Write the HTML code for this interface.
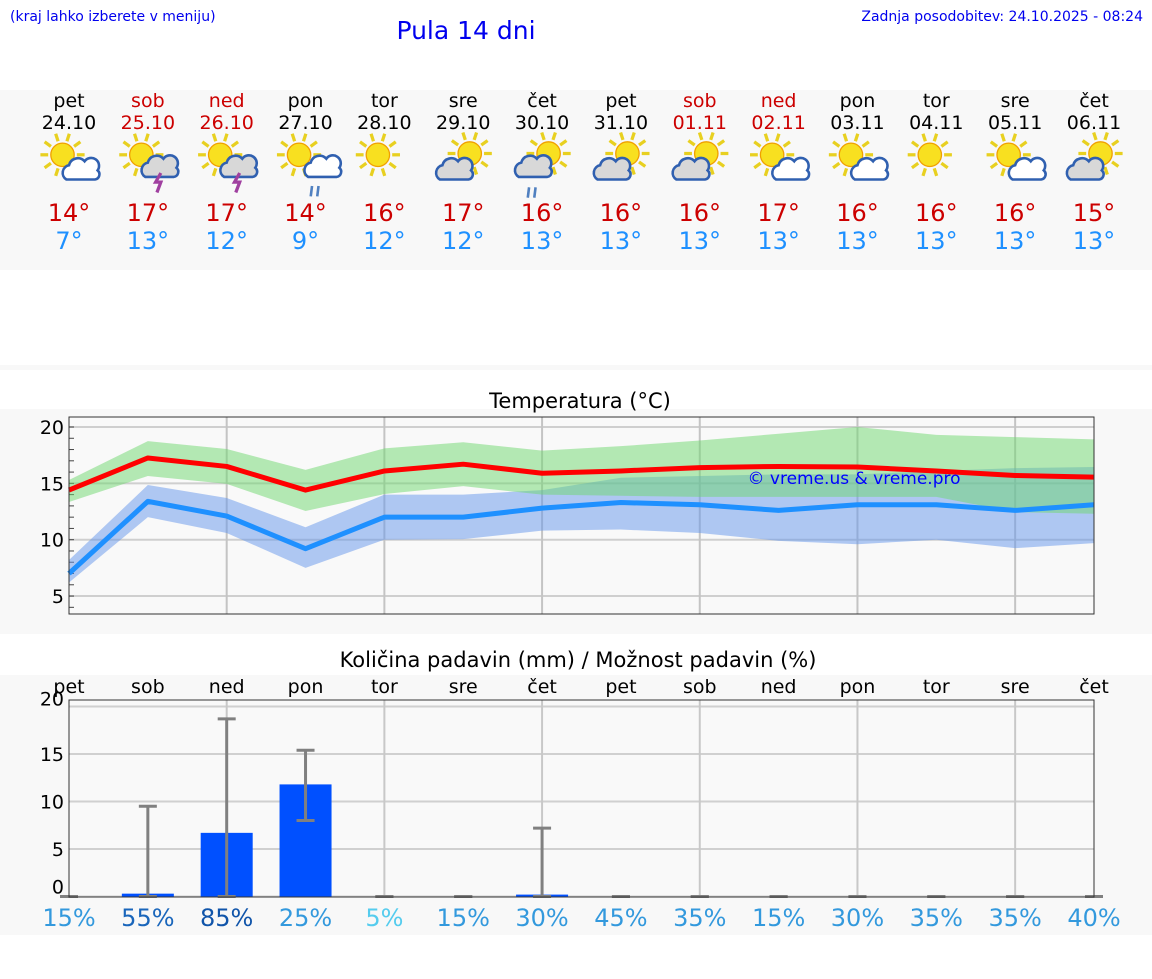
<!DOCTYPE html>
<html><head><meta charset="utf-8"><style>
body{margin:0;background:#fff;width:1152px;height:975px;overflow:hidden;font-family:"DejaVu Sans","Liberation Sans",sans-serif}
svg text{font-family:"DejaVu Sans","Liberation Sans",sans-serif}
</style></head><body>
<svg id="s" width="1152" height="975" xmlns="http://www.w3.org/2000/svg">
<rect x="0" y="90" width="1152" height="180" fill="#f8f8f8"/>
<rect x="0" y="365" width="1152" height="5" fill="#f8f8f8"/>
<rect x="0" y="409" width="1152" height="225" fill="#f8f8f8"/>
<rect x="0" y="675" width="1152" height="260" fill="#f8f8f8"/>
<text x="10" y="21" font-size="14" fill="#0000ee">(kraj lahko izberete v meniju)</text>
<text x="466" y="39" font-size="25" fill="#0000ee" text-anchor="middle">Pula 14 dni</text>
<text x="1143" y="21" font-size="14" fill="#0000ee" text-anchor="end">Zadnja posodobitev: 24.10.2025 - 08:24</text>
<text x="580" y="408" font-size="21" text-anchor="middle">Temperatura (°C)</text>
<text x="578" y="667" font-size="21" text-anchor="middle">Količina padavin (mm) / Možnost padavin (%)</text>
<g id="topg"></g><g id="temp"></g><g id="prec"></g>
</svg>
<script>
const days=["pet","sob","ned","pon","tor","sre","čet","pet","sob","ned","pon","tor","sre","čet"];
const dates=["24.10","25.10","26.10","27.10","28.10","29.10","30.10","31.10","01.11","02.11","03.11","04.11","05.11","06.11"];
const weekend=[0,1,1,0,0,0,0,0,1,1,0,0,0,0];
const icons=["sc","st","st","sr","s","cs","cr","cs","cs","sc","sc","s","sc","cs"];
const hiLabels=[14,17,17,14,16,17,16,16,16,17,16,16,16,15];
const loLabels=[7,13,12,9,12,12,13,13,13,13,13,13,13,13];
const tMax=[14.4,17.25,16.5,14.4,16.1,16.7,15.9,16.1,16.4,16.5,16.45,16.1,15.7,15.55];
const tMaxHi=[15.3,18.75,18.05,16.2,18.1,18.65,17.9,18.3,18.8,19.4,20.0,19.3,19.1,18.9];
const tMaxLo=[13.35,15.65,14.95,12.55,14.05,14.75,14.0,13.9,13.8,13.8,13.8,13.8,12.45,12.3];
const tMin=[7.0,13.4,12.1,9.2,12.0,12.0,12.8,13.3,13.1,12.6,13.1,13.1,12.6,13.1];
const tMinHi=[8.2,14.85,13.7,11.1,14.0,14.0,14.4,15.5,15.65,15.8,15.8,16.1,16.35,16.45];
const tMinLo=[6.2,12.0,10.6,7.5,10.0,10.05,10.8,10.9,10.6,9.9,9.6,10.0,9.25,9.7];
const rain=[0,0.3,6.7,11.8,0,0,0.2,0,0,0,0,0,0,0];
const rainHi=[0,9.5,18.7,15.4,0,0,7.2,0,0,0,0,0,0,0];
const rainLo=[0,0,0,8,0,0,0,0,0,0,0,0,0,0];
const prob=[15,55,85,25,5,15,30,45,35,15,30,35,35,40];
const tTicks=[5,10,15,20];
const pTicks=[0,5,10,15,20];
const NS="http://www.w3.org/2000/svg";
function mk(p,t,a){const e=document.createElementNS(NS,t);for(const k in a)e.setAttribute(k,a[k]);p.appendChild(e);return e;}
const X=i=>69+i*(1025/13);
const TY=v=>427+(20-v)*11.27;
const PY=v=>896.5-v*9.5;
const topG=document.getElementById('topg');
function sun(g,cx,cy,r){for(let k=0;k<10;k++){const a=k*Math.PI/5;mk(g,'line',{x1:cx+Math.cos(a)*(r+2),y1:cy+Math.sin(a)*(r+2),x2:cx+Math.cos(a)*(r+8),y2:cy+Math.sin(a)*(r+8),stroke:'#e8d020','stroke-width':2.5});}
mk(g,'circle',{cx:cx,cy:cy,r:r,fill:'#f8e020',stroke:'#f0a000','stroke-width':1});}
function cloud(g,cx,cy,fill){mk(g,'path',{d:`M${cx-12},${cy+7} a6,6 0 0 1 2,-11 a7,7 0 0 1 12,-3 a6,6 0 0 1 10,7 a4,4 0 0 1 -2,7 z`,fill:fill,stroke:'#3060b0','stroke-width':2});}
for(let i=0;i<14;i++){
 const x=X(i);
 const col=weekend[i]?'#cc0000':'#000';
 let t=mk(topG,'text',{x:x,y:107,'font-size':19,'text-anchor':'middle',fill:col});t.textContent=days[i];
 
 
 t=mk(topG,'text',{x:x,y:129,'font-size':19,'text-anchor':'middle',fill:col});t.textContent=dates[i];
 
 
 const g=mk(topG,'g',{transform:`translate(${x},160) scale(1.3) translate(${-x},-160)`});
 
 
 const ic=icons[i];
 if(ic[0]==='s'){sun(g,x-5,156,9);}else{sun(g,x+5,155,9);}
 if(ic==='sc')cloud(g,x+10,168,'#fff');
 if(ic==='st'){cloud(g,x+10,166,'#d8d8d8');mk(g,'path',{d:`M${x+10},170 l-4,7 h4 l-3,8`,stroke:'#a040a0','stroke-width':2.5,fill:'none'});}
 if(ic==='sr'){cloud(g,x+14,166,'#fff');mk(g,'path',{d:`M${x+5},180 l-1,8 M${x+10},180 l-1,8`,stroke:'#5080c0','stroke-width':2});}
 if(ic==='cs')cloud(g,x-6,168,'#d8d8d8');
 if(ic==='cr'){cloud(g,x-6,166,'#d8d8d8');mk(g,'path',{d:`M${x-10},181 l-1,8 M${x-5},181 l-1,8`,stroke:'#5080c0','stroke-width':2});}
 t=mk(topG,'text',{x:x,y:221,'font-size':24,'text-anchor':'middle',fill:'#cc0000'});t.textContent=hiLabels[i]+'°';
 
 
 t=mk(topG,'text',{x:x,y:249,'font-size':24,'text-anchor':'middle',fill:'#1e90ff'});t.textContent=loLabels[i]+'°';
 
 
}
const tg=document.getElementById('temp');
mk(tg,'rect',{x:69,y:417,width:1025,height:197,fill:'#f9f9f9'});
for(const v of tTicks){mk(tg,'line',{x1:69,x2:1094,y1:TY(v),y2:TY(v),stroke:'#cfcfcf','stroke-width':2});
 const t=mk(tg,'text',{x:64,y:TY(v)+7,'font-size':19,'text-anchor':'end'});t.textContent=v;
 
 }
for(let v=4;v<=20;v++)mk(tg,'line',{x1:69,x2:74,y1:TY(v),y2:TY(v),stroke:'#444'});
for(let i=2;i<14;i+=2)mk(tg,'line',{x1:X(i),x2:X(i),y1:417,y2:614,stroke:'#c4c4c4','stroke-width':2});
function band(hi,lo,fill,name){let d='M'+hi.map((v,i)=>X(i)+','+TY(v)).join(' L')+' L'+lo.map((v,i)=>X(i)+','+TY(v)).reverse().join(' L')+'Z';
 const p=mk(tg,'path',{d:d,fill:fill});
 
 }
function line(vals,col,name){const p=mk(tg,'polyline',{points:vals.map((v,i)=>X(i)+','+TY(v)).join(' '),fill:'none',stroke:col,'stroke-width':5,'stroke-linejoin':'round'});
 
 }
band(tMinHi,tMinLo,'rgba(100,150,235,0.5)','min-temp-band');
band(tMaxHi,tMaxLo,'rgba(110,215,110,0.5)','max-temp-band');
line(tMax,'#ff0000','max-temp-line');
line(tMin,'#1e90ff','min-temp-line');
mk(tg,'rect',{x:69,y:417,width:1025,height:197,fill:'none',stroke:'#333'});
const wm=mk(tg,'text',{x:854,y:484,'font-size':17,fill:'#0000ff','text-anchor':'middle'});wm.textContent='© vreme.us & vreme.pro';


const pg=document.getElementById('prec');
mk(pg,'rect',{x:69,y:700,width:1025,height:197,fill:'#f9f9f9'});
for(const v of pTicks){mk(pg,'line',{x1:69,x2:1094,y1:PY(v),y2:PY(v),stroke:'#d0d0d0','stroke-width':2});
 const t=mk(pg,'text',{x:64,y:PY(v)+(v===0?-3:(v===20?-1:7)),'font-size':19,'text-anchor':'end'});t.textContent=v;
 
 }
for(let i=2;i<14;i+=2)mk(pg,'line',{x1:X(i),x2:X(i),y1:700,y2:897,stroke:'#c8c8c8','stroke-width':2});
for(let i=0;i<14;i++){
 const x=X(i);
 let t=mk(pg,'text',{x:x,y:693,'font-size':19,'text-anchor':'middle'});t.textContent=days[i];
 
 
 if(rain[i]>0){const b=mk(pg,'rect',{x:x-26,y:PY(rain[i]),width:52,height:PY(0)-PY(rain[i])+0.5,fill:'#0050ff'});
  
  }
 const e=mk(pg,'g',{stroke:'#808080','stroke-width':3});
 
 
 mk(e,'line',{x1:x,x2:x,y1:PY(rainHi[i]),y2:PY(rainLo[i])});
 mk(e,'line',{x1:x-9,x2:x+9,y1:PY(rainHi[i]),y2:PY(rainHi[i])});
 mk(e,'line',{x1:x-9,x2:x+9,y1:PY(rainLo[i]),y2:PY(rainLo[i])});
 const p=prob[i];const c=p>=80?'#1155aa':p>=50?'#1a66bb':p<=5?'#55ccee':'#3399dd';
 t=mk(pg,'text',{x:x,y:926,'font-size':24,'text-anchor':'middle',fill:c});t.textContent=p+'%';
 
 
}
mk(pg,'rect',{x:69,y:700,width:1025,height:197,fill:'none',stroke:'#333'});
</script>
</body></html>
